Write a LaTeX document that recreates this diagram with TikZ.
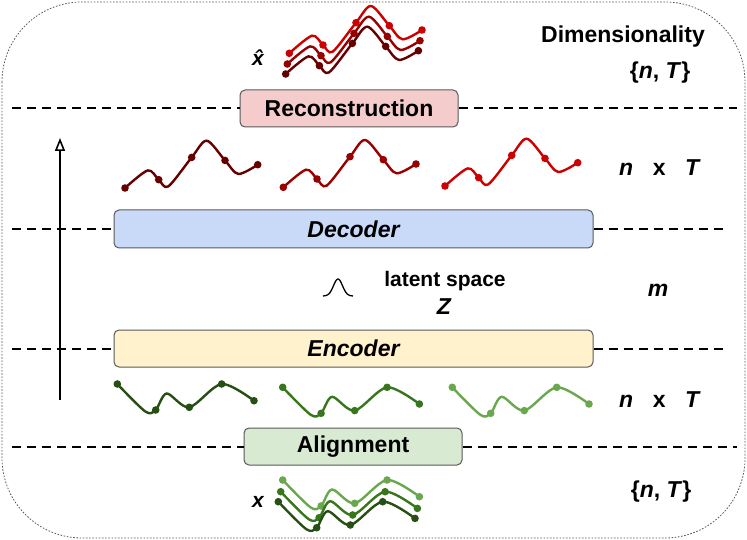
\documentclass[tikz,border=0pt]{standalone}
\usepackage{fontspec}
\setmainfont{Liberation Sans}
\usetikzlibrary{arrows.meta}
\definecolor{rone}{HTML}{660000}
\definecolor{rtwo}{HTML}{990000}
\definecolor{rthree}{HTML}{CC0000}
\definecolor{gone}{HTML}{274E13}
\definecolor{gtwo}{HTML}{38761D}
\definecolor{gthree}{HTML}{6AA84F}
\definecolor{boxline}{HTML}{595959}
\definecolor{recfill}{HTML}{F4CCCC}
\definecolor{decfill}{HTML}{C9DAF8}
\definecolor{encfill}{HTML}{FFF2CC}
\definecolor{alifill}{HTML}{D9EAD3}
\begin{document}
\begin{tikzpicture}[x=1pt,y=-1pt,
  stage/.style={draw=boxline, line width=1pt, rounded corners=5pt, inner sep=0pt,
    font=\fontsize{23}{26}\selectfont\bfseries},
  level/.style={line width=2pt, dash pattern=on 9pt off 6pt},
  dimtext/.style={font=\fontsize{23}{26}\selectfont\bfseries},
  redwave/.pic={
    \draw[line width=2.4pt] plot[smooth] coordinates {(0,0) (22.7,-17.6) (33.7,-8.3)
      (43.3,-1.6) (66.7,-30.6) (81.7,-47.3) (100,-27.6) (113.3,-14) (132.7,-23.3)};
    \foreach \a/\b in {0/0,33.7/-8.3,66.7/-30.6,100/-27.6,132.7/-23.3}
      \fill (\a,\b) circle (3.8pt);
  },
  greenwave/.pic={
    \draw[line width=2.4pt] plot[smooth, tension=0.5] coordinates {(0,0) (28,27.5) (38.4,26)
      (49.4,9.5) (72,23.3) (104.4,0) (136.7,16.7)};
    \foreach \a/\b in {0/0,38.4/26,72/23.3,104.4/0,136.7/16.7}
      \fill (\a,\b) circle (3.8pt);
  }]
\useasboundingbox (0,0) rectangle (747,540);
% Frame
\draw[gray!70!black, line width=0.8pt, dash pattern=on 1.6pt off 1.6pt, rounded corners=80pt]
  (2,2) rectangle (745,538);
% Stages
\node[stage, fill=recfill, minimum width=218, minimum height=37] (rec) at (349,108.5) {Reconstruction};
\node[stage, fill=decfill, minimum width=479, minimum height=38] (dec) at (353.5,229) {\itshape Decoder};
\node[stage, fill=encfill, minimum width=479, minimum height=37] (enc) at (353.5,348.5) {\itshape Encoder};
\node[stage, fill=alifill, minimum width=218, minimum height=37] (ali) at (353,446.5) {Alignment};
% Level lines
\coordinate (recL) at (12,108.5);
\coordinate (recR) at (737,108.5);
\coordinate (decL) at (12,229);
\coordinate (decR) at (727,229);
\coordinate (encL) at (12,348.5);
\coordinate (encR) at (727,348.5);
\coordinate (aliL) at (12,446.5);
\coordinate (aliR) at (737,446.5);
\draw[level] (recL) -- (rec.west);
\draw[level] (rec.east) -- (recR);
\draw[level] (decL) -- (dec.west);
\draw[level] (dec.east) -- (decR);
\draw[level] (encL) -- (enc.west);
\draw[level] (enc.east) -- (encR);
\draw[level] (aliL) -- (ali.west);
\draw[level] (ali.east) -- (aliR);
% Arrow
\coordinate (up0) at (60,400);
\coordinate (up1) at (60,138);
\draw[line width=1.6pt, -{Triangle[open, length=13pt, width=10pt]}] (up0) -- (up1);
% Output series
\pic[rthree] at (289.3,53.3) {redwave};
\pic[rtwo] at (287.3,64) {redwave};
\pic[rone] at (285.7,74) {redwave};
\node[font=\fontsize{21}{24}\selectfont\bfseries\itshape] (xhat) at (258,58) {\^{x}};
% Decoded series
\pic[rone] at (125,188) {redwave};
\pic[rtwo] at (283.3,187.3) {redwave};
\pic[rthree] at (445,186) {redwave};
% Latent space
\draw[line width=1.3pt] plot[domain=-1:1, samples=50] ({338+15*\x},{296-17*exp(-\x*\x/0.18)});
\node[font=\fontsize{21}{24}\selectfont\bfseries] (lat) at (445,281) {latent space};
\node[font=\fontsize{23}{26}\selectfont\bfseries\itshape] (z) at (444,307) {Z};
% Encoded series
\pic[gone] at (117.3,384) {greenwave};
\pic[gtwo] at (282.7,387.3) {greenwave};
\pic[gthree] at (452.3,387.3) {greenwave};
% Input series
\pic[gthree] at (282.7,480) {greenwave};
\pic[gtwo] at (280.7,491.7) {greenwave};
\pic[gone] at (278.3,501.7) {greenwave};
\node[font=\fontsize{21}{24}\selectfont\bfseries\itshape] (x) at (258,502) {x};
% Dimensionality
\node[dimtext] (dim) at (623,37) {Dimensionality};
\node[dimtext] (d1) at (660,73) {\{\textit{n}, \textit{T}\}};
\node[dimtext] (d2) at (660,168) {\textit{n}\hspace{0.85em}x\hspace{0.85em}\textit{T}};
\node[dimtext] (d3) at (658,290) {\textit{m}};
\node[dimtext] (d4) at (660,400) {\textit{n}\hspace{0.85em}x\hspace{0.85em}\textit{T}};
\node[dimtext] (d5) at (661,492) {\{\textit{n}, \textit{T}\}};
\end{tikzpicture}
\end{document}
